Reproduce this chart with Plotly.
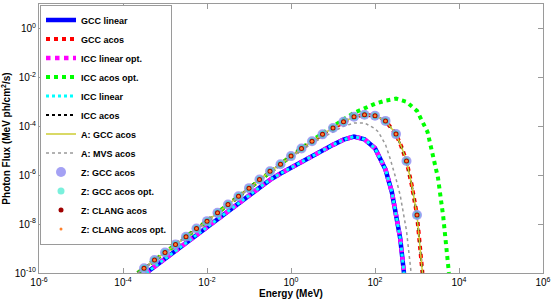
import numpy as np
import plotly.graph_objects as go

# ---- data (log10 values) ----
# acos curve (GCC acos / ICC acos / A: GCC acos)
acos_logE = [-3.65, -3.5, -3.25, -3.0, -2.75, -2.5, -2.25, -2.0, -1.75, -1.5, -1.25, -1.0,
             -0.75, -0.5, -0.25, 0.0, 0.25, 0.5, 0.75, 1.0, 1.25, 1.5, 1.75, 2.0, 2.25,
             2.5, 2.625, 2.75, 2.875, 3.0, 3.13]
acos_logF = [-10.0, -9.81, -9.47, -9.16, -8.83, -8.52, -8.18, -7.88, -7.54, -7.20, -6.86, -6.53,
             -6.18, -5.84, -5.55, -5.22, -4.91, -4.61, -4.33, -4.07, -3.82, -3.61, -3.53, -3.57, -3.78,
             -4.32, -4.82, -5.42, -6.41, -7.63, -10.0]

# linear curve (GCC linear / ICC linear opt. / ICC linear)
lin_logE = [-3.45, -3.0, -2.5, -2.0, -1.5, -1.0, -0.75, -0.5, -0.25, 0.0, 0.25, 0.5, 0.75,
            1.0, 1.25, 1.5, 1.75, 2.0, 2.25, 2.4, 2.5, 2.6, 2.69]
lin_logF = [-10.0, -9.42, -8.79, -8.15, -7.48, -6.83, -6.50, -6.19, -5.93, -5.69, -5.47, -5.24, -5.00,
            -4.76, -4.55, -4.42, -4.53, -4.90, -5.77, -6.68, -7.62, -8.58, -10.0]

# ICC acos opt.
opt_logE = [-3.65, -3.5, -3.0, -2.5, -2.0, -1.5, -1.0, -0.5, 0.0, 0.5, 0.75, 1.0, 1.25, 1.5,
            2.0, 2.25, 2.5, 2.75, 3.0, 3.25, 3.5, 3.625, 3.76]
opt_logF = [-10.0, -9.81, -9.16, -8.52, -7.88, -7.20, -6.53, -5.84, -5.22, -4.58, -4.28, -3.98, -3.72, -3.45,
            -3.08, -2.95, -2.87, -3.0, -3.37, -4.23, -6.11, -7.7, -10.0]

# A: MVS acos
mvs_logE = [-3.65, -3.5, -3.0, -2.0, -1.0, 0.0, 0.5, 1.0, 1.25, 1.5, 1.64, 1.75, 2.0, 2.08,
            2.25, 2.36, 2.5, 2.6, 2.75, 2.86]
mvs_logF = [-10.0, -9.83, -9.18, -7.90, -6.57, -5.28, -4.70, -4.22, -4.00, -3.87, -3.85, -3.86, -4.10, -4.23,
            -4.75, -5.32, -6.15, -6.82, -8.27, -10.0]

# Z markers
z_logE = [-3.5, -3.25, -3.0, -2.75, -2.5, -2.25, -2.0, -1.75, -1.5, -1.25, -1.0, -0.75, -0.5,
          -0.25, 0.0, 0.25, 0.5, 0.75, 1.0, 1.25, 1.5, 1.75, 2.0, 2.25, 2.5, 2.75, 3.0]
z_logF = [-9.81, -9.47, -9.16, -8.83, -8.52, -8.18, -7.88, -7.54, -7.20, -6.86, -6.53, -6.18, -5.84,
          -5.55, -5.22, -4.91, -4.61, -4.33, -4.07, -3.82, -3.61, -3.53, -3.57, -3.78, -4.32, -5.42, -7.63]

x_tick_exp = [-6, -4, -2, 0, 2, 4, 6]
y_tick_exp = [-10, -8, -6, -4, -2, 0]

def p10(a):
    return np.power(10.0, np.array(a, dtype=float))

FONT = "Liberation Sans, Arial, sans-serif"

fig = go.Figure()

def add_line(name, lx, ly, color, width, dash):
    fig.add_trace(go.Scatter(x=p10(lx), y=p10(ly), mode="lines", name=name,
                             line=dict(color=color, width=width, dash=dash)))

def add_markers(name, color, size, opacity=1.0):
    fig.add_trace(go.Scatter(x=p10(z_logE), y=p10(z_logF), mode="markers", name=name,
                             marker=dict(color=color, size=size, opacity=opacity,
                                         line=dict(width=0))))

add_line("GCC linear", lin_logE, lin_logF, "#0000ff", 4.5, "solid")
add_line("GCC acos", acos_logE, acos_logF, "#ff0000", 4, "dot")
add_line("ICC linear opt.", lin_logE, lin_logF, "#ff00ff", 4.5, "dot")
add_line("ICC acos opt.", opt_logE, opt_logF, "#00ff00", 4, "dot")
add_line("ICC linear", lin_logE, lin_logF, "#00ffff", 3, "dot")
add_line("ICC acos", acos_logE, acos_logF, "#000000", 2, "dot")
add_line("A: GCC acos", acos_logE, acos_logF, "#cccc33", 1.5, "solid")
add_line("A: MVS acos", mvs_logE, mvs_logF, "#999999", 1.5, "dot")
add_markers("Z: GCC acos", "#9490f2", 10, 0.85)
add_markers("Z: GCC acos opt.", "#22e6c4", 7, 0.6)
add_markers("Z: CLANG acos", "#a00000", 5)
add_markers("Z: CLANG acos opt.", "#ff7f2a", 3)

axis_common = dict(
    type="log", showgrid=False, zeroline=False, showline=True, linecolor="#9a9a9a",
    linewidth=1, mirror="ticks", ticks="inside", ticklen=5, tickcolor="#9a9a9a",
    tickfont=dict(family=FONT, size=10, color="#000000"),
)

fig.update_xaxes(
    **axis_common, range=[-6, 6],
    tickvals=[10.0 ** e for e in x_tick_exp],
    ticktext=[f"10<sup>{e}</sup>" for e in x_tick_exp],
    title=dict(text="Energy (MeV)", font=dict(family=FONT, size=10, color="#000000", weight="bold"),
               standoff=2),
)
fig.update_yaxes(
    **axis_common, range=[-10, 1],
    tickvals=[10.0 ** e for e in y_tick_exp],
    ticktext=[f"10<sup>{e}</sup>" for e in y_tick_exp],
    title=dict(text="Photon Flux (MeV ph/cm<sup>2</sup>/s)",
               font=dict(family=FONT, size=10, color="#000000", weight="bold"), standoff=2),
)

fig.update_layout(
    width=555, height=303,
    margin=dict(l=39, r=12, t=4, b=30),
    paper_bgcolor="white", plot_bgcolor="white",
    legend=dict(x=0.002, y=0.998, xanchor="left", yanchor="top",
                bgcolor="white", bordercolor="#9a9a9a", borderwidth=1,
                font=dict(family=FONT, size=9, color="#000000", weight="bold"),
                itemwidth=30, tracegroupgap=0),
    showlegend=True,
)

fig.write_html("out.html", config={"displayModeBar": False},
               post_script="document.body.style.margin='0';")
